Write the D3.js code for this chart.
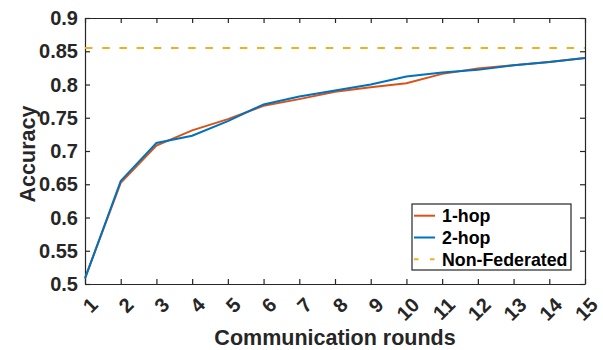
<!DOCTYPE html>
<html>
<head>
<meta charset="utf-8">
<script src="https://cdn.jsdelivr.net/npm/d3@7"></script>
<style>
  body { margin: 0; background: #fff; }
  svg { display: block; font-family: "Liberation Sans", Arial, sans-serif; font-weight: bold; }
</style>
</head>
<body>
<svg width="603" height="350"></svg>
<script>
// data
const rounds = [1,2,3,4,5,6,7,8,9,10,11,12,13,14,15];
const oneHop = [0.509,0.652,0.708,0.731,0.748,0.768,0.778,0.789,0.796,0.802,0.816,0.824,0.829,0.834,0.840];
const twoHop = [0.508,0.655,0.712,0.723,0.745,0.770,0.782,0.791,0.800,0.812,0.818,0.822,0.829,0.834,0.840];
const nonFederated = 0.855;
const yTicks = [0.5,0.55,0.6,0.65,0.7,0.75,0.8,0.85,0.9];
const yTickLabels = ["0.5","0.55","0.6","0.65","0.7","0.75","0.8","0.85","0.9"];

const svg = d3.select("svg");
const L = 85, R = 585, T = 18, B = 284;
const ink = "#262626";

const x = d3.scaleLinear().domain([1, 15]).range([L, R]);
const y = d3.scaleLinear().domain([0.5, 0.9]).range([B, T]);

// axes (box with inward ticks on all sides)
const axisB = svg.append("g").attr("transform", `translate(0,${B})`)
  .call(d3.axisBottom(x).tickValues(rounds).tickSizeInner(-5).tickSizeOuter(0).tickFormat(""));
const axisT = svg.append("g").attr("transform", `translate(0,${T})`)
  .call(d3.axisTop(x).tickValues(rounds).tickSizeInner(-5).tickSizeOuter(0).tickFormat(""));
const axisL = svg.append("g").attr("transform", `translate(${L},0)`)
  .call(d3.axisLeft(y).tickValues(yTicks).tickSizeInner(-5).tickSizeOuter(0).tickFormat(""));
const axisR = svg.append("g").attr("transform", `translate(${R},0)`)
  .call(d3.axisRight(y).tickValues(yTicks).tickSizeInner(-5).tickSizeOuter(0).tickFormat(""));
[axisB, axisT, axisL, axisR].forEach(g => {
  g.selectAll("path, line").attr("stroke", ink).attr("stroke-width", 1.2);
});

// y tick labels
svg.append("g").selectAll("text")
  .data(yTicks)
  .join("text")
  .attr("x", L - 7)
  .attr("y", d => y(d))
  .attr("dy", "0.36em")
  .attr("text-anchor", "end")
  .attr("font-size", "20px")
  .attr("fill", ink)
  .text((d, i) => yTickLabels[i]);

// x tick labels, rotated
svg.append("g").selectAll("text")
  .data(rounds)
  .join("text")
  .attr("transform", d => `translate(${x(d) + 4},${B + 12}) rotate(-45)`)
  .attr("dy", "0.72em")
  .attr("text-anchor", "end")
  .attr("font-size", "20px")
  .attr("fill", ink)
  .text(d => d);

// axis titles
svg.append("text")
  .attr("x", (L + R) / 2)
  .attr("y", 345)
  .attr("text-anchor", "middle")
  .attr("font-size", "21.5px")
  .attr("fill", ink)
  .text("Communication rounds");

svg.append("text")
  .attr("transform", `translate(35,${(T + B) / 2 + 3}) rotate(-90)`)
  .attr("text-anchor", "middle")
  .attr("font-size", "21.5px")
  .attr("fill", ink)
  .text("Accuracy");

// series
const line = d3.line().x((d, i) => x(rounds[i])).y(d => y(d));

svg.append("line")
  .attr("x1", x(1)).attr("x2", x(15))
  .attr("y1", y(nonFederated)).attr("y2", y(nonFederated))
  .attr("stroke", "#EDB120").attr("stroke-width", 2)
  .attr("stroke-dasharray", "7.5,9.7");

svg.append("path").datum(oneHop)
  .attr("d", line).attr("fill", "none")
  .attr("stroke", "#D95319").attr("stroke-width", 2);

svg.append("path").datum(twoHop)
  .attr("d", line).attr("fill", "none")
  .attr("stroke", "#0072BD").attr("stroke-width", 2);

// legend
const legendItems = [
  { name: "1-hop", color: "#D95319", dash: null },
  { name: "2-hop", color: "#0072BD", dash: null },
  { name: "Non-Federated", color: "#EDB120", dash: "4.5,11.5" }
];
const lg = svg.append("g");
lg.append("rect")
  .attr("x", 412).attr("y", 204).attr("width", 159).attr("height", 66)
  .attr("fill", "#fff").attr("stroke", ink).attr("stroke-width", 1.2);
const items = lg.selectAll("g.item")
  .data(legendItems)
  .join("g")
  .attr("transform", (d, i) => `translate(0,${215.7 + i * 21.8})`);
items.append("line")
  .attr("x1", 414).attr("x2", 435)
  .attr("stroke", d => d.color).attr("stroke-width", 2)
  .attr("stroke-dasharray", d => d.dash);
items.append("text")
  .attr("x", 442)
  .attr("dy", "0.36em")
  .attr("font-size", "17.8px")
  .attr("fill", "#000")
  .text(d => d.name);
</script>
</body>
</html>
